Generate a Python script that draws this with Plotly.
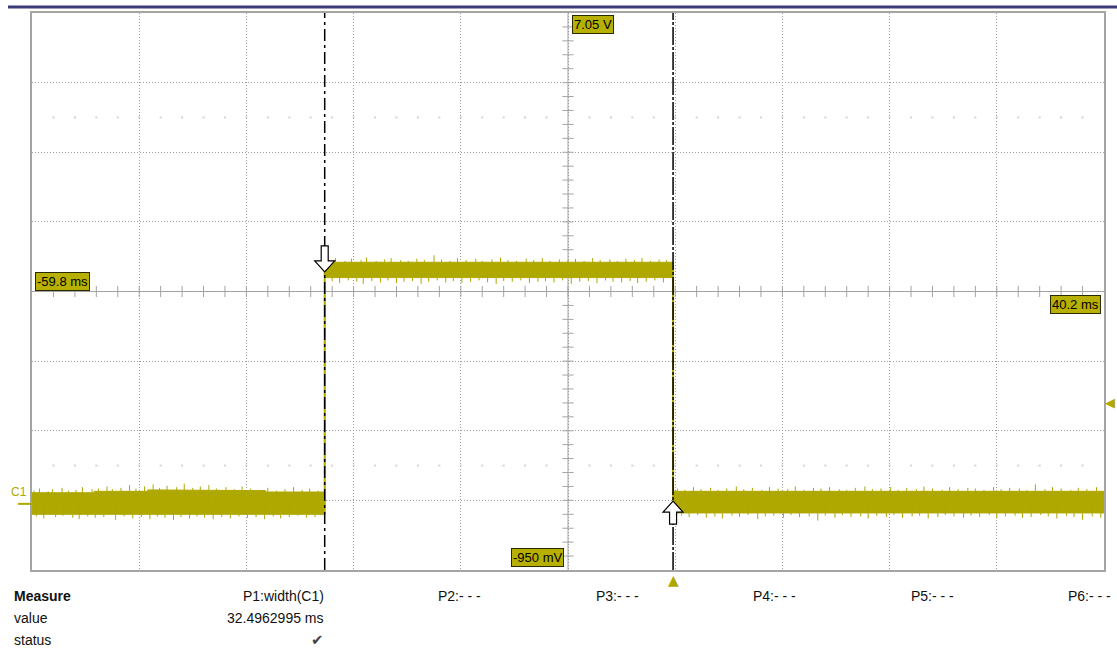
import plotly.graph_objects as go

# ---- screen window: 10 ms/div, 1 V/div ----
t_range = [-59.8, 40.2]        # ms
v_range = [-0.95, 7.05]        # V
t_div = 10.0
v_div = 1.0
minor_per_div = 5

# ---- pulse on C1 ----
t_rise = -32.4962995           # ms
t_fall = 0.0                   # ms (trigger point)
trig_level = 1.46              # V
ground = 0.0                   # V

# noise band envelope (breakpoints in ms, bounds in V)
env_t = [-59.8, -54.0, -54.0, -49.0, -49.0, -43.0, -43.0, -38.0, -38.0, -32.4963,
         -32.4963, 0.0, 0.0, 40.2]
env_hi = [0.16, 0.16, 0.18, 0.18, 0.20, 0.20, 0.19, 0.19, 0.17, 0.17,
          3.47, 3.47, 0.18, 0.18]
env_lo = [-0.15, -0.15, -0.16, -0.16, -0.16, -0.16, -0.15, -0.15, -0.15, -0.15,
          3.25, 3.25, -0.13, -0.13]

# segment mean levels
level_low_a = 0.02
level_high = 3.36
level_low_b = 0.025

# noise spikes beyond the band (time ms, tip V)
low_a_up_t = [-59.6, -59.1, -58.3, -57.9, -57.0, -56.4, -55.7, -55.1, -54.2, -53.6, -52.8, -52.3,
              -51.5, -50.7, -50.1, -49.3, -48.5, -47.9, -47.2, -46.3, -45.6, -44.8, -44.1, -43.3,
              -42.6, -41.7, -40.9, -40.2, -39.4, -38.6, -37.8, -37.0, -36.2, -35.4, -34.6, -33.9,
              -33.1]
low_a_up_v = [0.19, 0.22, 0.18, 0.21, 0.23, 0.19, 0.20, 0.24, 0.21, 0.22, 0.25, 0.21,
              0.23, 0.27, 0.22, 0.25, 0.28, 0.23, 0.26, 0.24, 0.29, 0.23, 0.25, 0.27,
              0.22, 0.24, 0.21, 0.25, 0.22, 0.20, 0.23, 0.19, 0.21, 0.24, 0.20, 0.22,
              0.19]
low_a_dn_t = [-59.4, -58.7, -57.6, -56.9, -56.0, -55.4, -54.6, -53.9, -53.1, -52.0, -51.2, -50.4,
              -49.6, -48.8, -48.1, -47.4, -46.6, -45.9, -45.1, -44.4, -43.7, -42.9, -42.1, -41.3,
              -40.5, -39.7, -38.9, -38.1, -37.3, -36.6, -35.8, -35.0, -34.2, -33.4]
low_a_dn_v = [-0.18, -0.21, -0.19, -0.17, -0.20, -0.22, -0.18, -0.20, -0.19, -0.23, -0.18, -0.21,
              -0.19, -0.22, -0.18, -0.20, -0.23, -0.19, -0.21, -0.18, -0.20, -0.22, -0.19, -0.21,
              -0.18, -0.20, -0.19, -0.22, -0.18, -0.21, -0.19, -0.17, -0.20, -0.19]

high_up_t = [-32.1, -31.5, -30.6, -30.0, -29.1, -28.6, -27.7, -26.9, -26.3, -25.4, -24.7, -23.9,
             -23.2, -22.3, -21.6, -20.8, -20.1, -19.3, -18.4, -17.8, -16.9, -16.1, -15.4, -14.6,
             -13.7, -13.0, -12.2, -11.5, -10.6, -9.8, -9.1, -8.3, -7.5, -6.8, -5.9, -5.2, -4.4,
             -3.6, -2.9, -2.1, -1.3, -0.6]
high_up_v = [3.50, 3.53, 3.49, 3.52, 3.50, 3.54, 3.49, 3.51, 3.53, 3.50, 3.49, 3.52,
             3.50, 3.57, 3.51, 3.49, 3.53, 3.50, 3.52, 3.49, 3.51, 3.54, 3.50, 3.49,
             3.52, 3.50, 3.53, 3.49, 3.51, 3.50, 3.52, 3.49, 3.53, 3.50, 3.51, 3.49, 3.52,
             3.50, 3.53, 3.49, 3.51, 3.50]
high_dn_t = [-31.8, -31.1, -30.3, -29.5, -28.9, -28.1, -27.3, -26.6, -25.8, -25.1, -24.3, -23.5,
             -22.8, -22.0, -21.2, -20.5, -19.7, -18.9, -18.1, -17.3, -16.5, -15.8, -15.0, -14.2,
             -13.4, -12.6, -11.9, -11.1, -10.3, -9.5, -8.7, -7.9, -7.1, -6.3, -5.6, -4.8, -4.0,
             -3.3, -2.5, -1.7, -0.9]
high_dn_v = [3.20, 3.17, 3.21, 3.19, 3.16, 3.20, 3.18, 3.21, 3.17, 3.19, 3.20, 3.16,
             3.19, 3.21, 3.18, 3.20, 3.17, 3.19, 3.21, 3.18, 3.16, 3.20, 3.19, 3.21,
             3.17, 3.19, 3.20, 3.18, 3.21, 3.16, 3.19, 3.20, 3.17, 3.21, 3.19, 3.18, 3.20,
             3.17, 3.19, 3.21, 3.18]

low_b_up_t = [0.4, 1.1, 1.9, 2.6, 3.5, 4.2, 5.0, 5.9, 6.6, 7.4, 8.3, 9.0, 9.8, 10.7, 11.4,
              12.2, 13.1, 13.8, 14.6, 15.5, 16.2, 17.0, 17.9, 18.6, 19.4, 20.3, 21.0, 21.8,
              22.7, 23.4, 24.2, 25.1, 25.8, 26.6, 27.5, 28.2, 29.0, 29.9, 30.6, 31.4, 32.3,
              33.0, 33.8, 34.7, 35.4, 36.2, 37.1, 37.8, 38.6, 39.5]
low_b_up_v = [0.22, 0.20, 0.24, 0.21, 0.23, 0.20, 0.22, 0.25, 0.21, 0.23, 0.20, 0.24,
              0.22, 0.21, 0.25, 0.20, 0.23, 0.22, 0.24, 0.21, 0.20, 0.23, 0.25, 0.21,
              0.22, 0.24, 0.20, 0.23, 0.21, 0.25, 0.22, 0.20, 0.24, 0.21, 0.23, 0.22,
              0.20, 0.24, 0.21, 0.23, 0.22, 0.20, 0.28, 0.21, 0.24, 0.22, 0.20, 0.23,
              0.21, 0.24]
low_b_dn_t = [0.8, 1.5, 2.3, 3.1, 3.9, 4.6, 5.5, 6.2, 7.0, 7.9, 8.6, 9.4, 10.3, 11.0, 11.8,
              12.7, 13.5, 14.2, 15.1, 15.8, 16.6, 17.5, 18.2, 19.0, 19.9, 20.6, 21.4, 22.3,
              23.0, 23.8, 24.7, 25.4, 26.2, 27.1, 27.8, 28.6, 29.5, 30.2, 31.0, 31.9, 32.6,
              33.4, 34.3, 35.0, 35.8, 36.7, 37.4, 38.2, 39.1, 39.9]
low_b_dn_v = [-0.17, -0.19, -0.16, -0.20, -0.18, -0.21, -0.17, -0.19, -0.16, -0.22, -0.18, -0.17,
              -0.20, -0.16, -0.19, -0.18, -0.24, -0.17, -0.20, -0.16, -0.19, -0.18, -0.21, -0.17,
              -0.19, -0.16, -0.20, -0.18, -0.17, -0.21, -0.19, -0.16, -0.18, -0.20, -0.17, -0.19,
              -0.16, -0.21, -0.18, -0.17, -0.20, -0.19, -0.16, -0.18, -0.21, -0.17, -0.19, -0.23,
              -0.18, -0.20]

# measurement table
meas_labels = ["P1:width(C1)", "P2:- - -", "P3:- - -", "P4:- - -", "P5:- - -", "P6:- - -"]
meas_values = ["32.4962995 ms", "", "", "", "", ""]
meas_status = ["\u2714", "", "", "", "", ""]

# ---- styling ----
TRACE = "#aea800"
LABEL_BG = "#b7b000"
GRID = "#9c9c9c"
AXIS = "#a4a4a4"
FONT = "Liberation Sans, Arial, sans-serif"

fig = go.Figure()

t_center = (t_range[0] + t_range[1]) / 2
v_center = (v_range[0] + v_range[1]) / 2

# minor tick marks on the centre cross
n_tdiv = round((t_range[1] - t_range[0]) / t_div)
n_vdiv = round((v_range[1] - v_range[0]) / v_div)
minor_t = [t_range[0] + i * t_div / minor_per_div for i in range(1, n_tdiv * minor_per_div)]
minor_v = [v_range[0] + i * v_div / minor_per_div for i in range(1, n_vdiv * minor_per_div)]

fig.add_trace(go.Scatter(x=minor_t, y=[v_center] * len(minor_t), mode="markers",
                         marker=dict(symbol="line-ns", size=8, line=dict(width=1, color=AXIS)),
                         hoverinfo="skip"))
fig.add_trace(go.Scatter(x=[t_center] * len(minor_v), y=minor_v, mode="markers",
                         marker=dict(symbol="line-ew", size=8, line=dict(width=1, color=AXIS)),
                         hoverinfo="skip"))

# faint dot rows inside the graticule
dot_rows = [v_range[1] - 1.5 * v_div, v_range[0] + 1.5 * v_div]
dot_x, dot_y = [], []
for row in dot_rows:
    for t in minor_t:
        dot_x.append(t)
        dot_y.append(row)
fig.add_trace(go.Scatter(x=dot_x, y=dot_y, mode="markers",
                         marker=dict(symbol="square", size=2, color="#d4d4d4"),
                         hoverinfo="skip"))

# noise band
fig.add_trace(go.Scatter(x=env_t + env_t[::-1], y=env_hi + env_lo[::-1],
                         fill="toself", fillcolor=TRACE, mode="lines",
                         line=dict(color=TRACE, width=1), hoverinfo="skip"))


def spikes(ts, vs, base):
    xs, ys = [], []
    for t, v in zip(ts, vs):
        xs += [t, t, None]
        ys += [base, v, None]
    return xs, ys


spike_x, spike_y = [], []
for ts, vs, base in [(low_a_up_t, low_a_up_v, level_low_a), (low_a_dn_t, low_a_dn_v, level_low_a),
                     (high_up_t, high_up_v, level_high), (high_dn_t, high_dn_v, level_high),
                     (low_b_up_t, low_b_up_v, level_low_b), (low_b_dn_t, low_b_dn_v, level_low_b)]:
    sx, sy = spikes(ts, vs, base)
    spike_x += sx
    spike_y += sy
fig.add_trace(go.Scatter(x=spike_x, y=spike_y, mode="lines", line=dict(color=TRACE, width=1),
                         hoverinfo="skip"))

# transitions
fig.add_trace(go.Scatter(x=[t_rise, t_rise, None, t_fall, t_fall],
                         y=[env_lo[9], env_hi[10], None, env_hi[11], env_lo[12]],
                         mode="lines", line=dict(color=TRACE, width=2), hoverinfo="skip"))

shapes = []
# centre cross
shapes.append(dict(type="line", xref="x", yref="paper", x0=t_center, x1=t_center, y0=0, y1=1,
                   line=dict(color=AXIS, width=1), layer="below"))
shapes.append(dict(type="line", xref="paper", yref="y", x0=0, x1=1, y0=v_center, y1=v_center,
                   line=dict(color=AXIS, width=1), layer="below"))
# measurement cursors
shapes.append(dict(type="line", xref="x", yref="paper", x0=t_rise, x1=t_rise, y0=0, y1=1,
                   line=dict(color="black", width=1.5, dash="12px,4px,3px,4px"), layer="above"))
shapes.append(dict(type="line", xref="x", yref="paper", x0=t_fall, x1=t_fall, y0=0, y1=1,
                   line=dict(color="black", width=1.5, dash="18px,2px,3px,2px"), layer="above"))
# cursor arrows (pixel-sized outlines anchored on the trace)
shapes.append(dict(type="path", xref="x", yref="y", xsizemode="pixel", ysizemode="pixel",
                   xanchor=t_rise, yanchor=level_high,
                   path="M0,-2 L-10,9 L-3.5,9 L-3.5,24 L3.5,24 L3.5,9 L10,9 Z",
                   fillcolor="white", line=dict(color="black", width=1.2), layer="above"))
shapes.append(dict(type="path", xref="x", yref="y", xsizemode="pixel", ysizemode="pixel",
                   xanchor=t_fall, yanchor=level_low_b,
                   path="M0,1 L-10,-10 L-3.5,-10 L-3.5,-22 L3.5,-22 L3.5,-10 L10,-10 Z",
                   fillcolor="white", line=dict(color="black", width=1.2), layer="above"))
# C1 ground marker
shapes.append(dict(type="line", xref="paper", yref="y", xsizemode="pixel", xanchor=0,
                   x0=-14, x1=0, y0=ground, y1=ground, line=dict(color=TRACE, width=2)))
# header bar
shapes.append(dict(type="line", xref="paper", yref="paper", xsizemode="pixel", ysizemode="pixel",
                   xanchor=0, yanchor=1, x0=-24, x1=1100, y0=6, y1=6,
                   line=dict(color="#3d3b7a", width=3)))

annotations = []


def tag(text, x, y, xanchor, yanchor, xref="x", yref="y", xshift=0, yshift=0):
    annotations.append(dict(text=text, x=x, y=y, xref=xref, yref=yref, xanchor=xanchor,
                            yanchor=yanchor, xshift=xshift, yshift=yshift, showarrow=False,
                            bgcolor=LABEL_BG, bordercolor="#2a2a00", borderwidth=1, borderpad=1,
                            font=dict(family=FONT, size=13, color="black")))


tag(f"{v_range[1]:.2f} V", t_center, 1, "left", "top", yref="paper", xshift=4, yshift=-2)
tag(f"{v_range[0] * 1000:.0f} mV", t_center, v_range[0], "right", "bottom", xshift=-4, yshift=3)
tag(f"{t_range[0]:.1f} ms", t_range[0], v_center, "left", "bottom", xshift=3, yshift=1)
tag(f"{t_range[1]:.1f} ms", t_range[1], v_center, "right", "top", xshift=-3, yshift=-3)

# channel and trigger markers
annotations.append(dict(text="C1", x=0, y=ground, xref="paper", yref="y", xanchor="right",
                        yanchor="bottom", xshift=-3, yshift=3, showarrow=False,
                        font=dict(family=FONT, size=12, color=TRACE)))
annotations.append(dict(text="\u25B2", x=t_fall, y=0, xref="x", yref="paper", xanchor="center",
                        yanchor="top", yshift=0, showarrow=False,
                        font=dict(family="DejaVu Sans", size=14, color=TRACE)))
annotations.append(dict(text="\u25C0", x=1, y=trig_level, xref="paper", yref="y", xanchor="left",
                        yanchor="middle", xshift=-1, showarrow=False,
                        font=dict(family="DejaVu Sans", size=13, color=TRACE)))

# measurement table
row_shift = [-26, -48, -70]
for text, dy, bold in [("Measure", row_shift[0], True), ("value", row_shift[1], False),
                       ("status", row_shift[2], False)]:
    annotations.append(dict(text=f"<b>{text}</b>" if bold else text, x=0, y=0, xref="paper",
                            yref="paper", xanchor="left", yanchor="middle", xshift=-20, yshift=dy,
                            showarrow=False, font=dict(family=FONT, size=14, color="#111")))
col_right = [294, 451, 609, 766, 924, 1081]
for i, (lab, val, st) in enumerate(zip(meas_labels, meas_values, meas_status)):
    for text, dy, fam, size, col in [(lab, row_shift[0], FONT, 14, "#111"),
                                     (val, row_shift[1], FONT, 14, "#111"),
                                     (st, row_shift[2], "DejaVu Sans", 15, "#444")]:
        if text:
            annotations.append(dict(text=text, x=0, y=0, xref="paper", yref="paper",
                                    xanchor="right", yanchor="middle", xshift=col_right[i],
                                    yshift=dy, showarrow=False,
                                    font=dict(family=fam, size=size, color=col)))

fig.update_layout(
    width=1117, height=650, autosize=False,
    margin=dict(l=32, r=11, t=12, b=80),
    paper_bgcolor="white", plot_bgcolor="white",
    showlegend=False, shapes=shapes, annotations=annotations,
    xaxis=dict(range=t_range, tick0=t_range[0], dtick=t_div, showgrid=True, griddash="1px,2px",
               gridcolor=GRID, gridwidth=1, showticklabels=False, ticks="", zeroline=False,
               showline=True, mirror=True, linecolor=AXIS, linewidth=2, fixedrange=True),
    yaxis=dict(range=v_range, tick0=v_range[0], dtick=v_div, showgrid=True, griddash="1px,2px",
               gridcolor=GRID, gridwidth=1, showticklabels=False, ticks="", zeroline=False,
               showline=True, mirror=True, linecolor=AXIS, linewidth=2, fixedrange=True),
)

fig.write_html("out.html")
